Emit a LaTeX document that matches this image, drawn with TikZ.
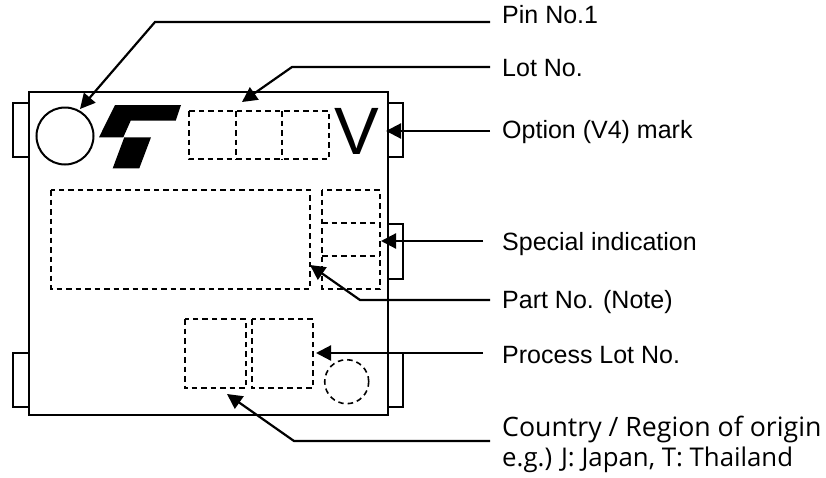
\documentclass[tikz,border=0pt]{standalone}
\usepackage{fontspec}
\setmainfont{Liberation Sans}
\newfontfamily\meiryo{Open Sans}
\usetikzlibrary{arrows.meta}
\tikzset{
  solidbox/.style={draw=black,line width=2pt,fill=white},
  dashbox/.style={draw=black,line width=1.6pt,dash pattern=on 5.5pt off 4pt},
  leader/.style={draw=black,line width=2.2pt,-{Triangle[length=15pt,width=15pt]}},
  lab/.style={anchor=west,inner sep=0pt,font=\fontsize{25}{28}\selectfont},
  lab2/.style={anchor=north west,inner sep=0pt,align=left,font=\meiryo\fontsize{26}{30}\selectfont},
}
\begin{document}
\begin{tikzpicture}[x=1pt,y=-1pt]
\useasboundingbox (0,0) rectangle (826,477);
% tabs
\draw[solidbox] (12.5,103) rectangle (29,157);
\draw[solidbox] (12.5,353) rectangle (29,407);
\draw[solidbox] (388,103) rectangle (403,157);
\draw[solidbox] (388,224) rectangle (403,279);
\draw[solidbox] (388,353) rectangle (403,407);
% body
\draw[solidbox] (29,92) rectangle (388,415);
% pin mark
\node[circle,draw=black,line width=2pt,minimum size=57pt,inner sep=0pt] (pin) at (65,136) {};
% logo
\fill[black] (115,105) -- (181,105) -- (175.7,120.7) -- (130.7,120.7) -- (123.3,137.3) -- (99,137.3) -- cycle;
\fill[black] (124.3,137.3) -- (151,137.3) -- (139.3,168.3) -- (112.7,168.3) -- cycle;
% lot
\draw[dashbox] (189,111) rectangle (329,159);
\draw[dashbox] (236,111) -- (236,159);
\draw[dashbox] (282,111) -- (282,159);
\node[inner sep=0pt,font=\fontsize{67}{67}\selectfont] (v) at (356.5,131) {V};
% part
\draw[dashbox] (51,190) rectangle (310,289);
\draw[dashbox] (322,190) rectangle (380,289);
\draw[dashbox] (322,223) -- (380,223);
\draw[dashbox] (322,256) -- (380,256);
% process
\draw[dashbox] (184.7,319) rectangle (246,388);
\draw[dashbox] (251.7,319) rectangle (313,388);
\node[circle,dashbox,minimum size=44pt,inner sep=0pt] (dc) at (346.7,381.7) {};
% labels
\node[lab] (l1) at (502,15) {Pin No.1};
\node[lab] (l2) at (502,68) {Lot No.};
\node[lab] (l3) at (502,132) {Option (V4) mark};
\node[lab] (l4) at (502,244) {Special indication};
\node[lab] (l5) at (502,302) {Part No. (Note)};
\node[lab] (l6) at (502,355) {Process Lot No.};
\node[lab2] (l7) at (502,416) {{\fontsize{26.7}{30}\selectfont Country / Region of origin}\\{\fontsize{25.8}{30}\selectfont e.g.) J: Japan, T: Thailand}};
% leaders
\coordinate (t1) at (80,109);
\coordinate (t2) at (242,102);
\coordinate (t3) at (386,131);
\coordinate (t4) at (381,241);
\coordinate (t5) at (310,265);
\coordinate (t6) at (316,353);
\coordinate (t7) at (227,394);
\coordinate (s1) at (490,22);
\coordinate (s2) at (490,67);
\coordinate (s3) at (490,131);
\coordinate (s4) at (483,241);
\coordinate (s5) at (490,300);
\coordinate (s6) at (483,353);
\coordinate (s7) at (490,441);
\draw[leader] (s1) -- (155,22) -- (t1);
\draw[leader] (s2) -- (292,67) -- (t2);
\draw[leader] (s3) -- (t3);
\draw[leader] (s4) -- (t4);
\draw[leader] (s5) -- (360,300) -- (t5);
\draw[leader] (s6) -- (t6);
\draw[leader] (s7) -- (294,441) -- (t7);
\end{tikzpicture}
\end{document}
